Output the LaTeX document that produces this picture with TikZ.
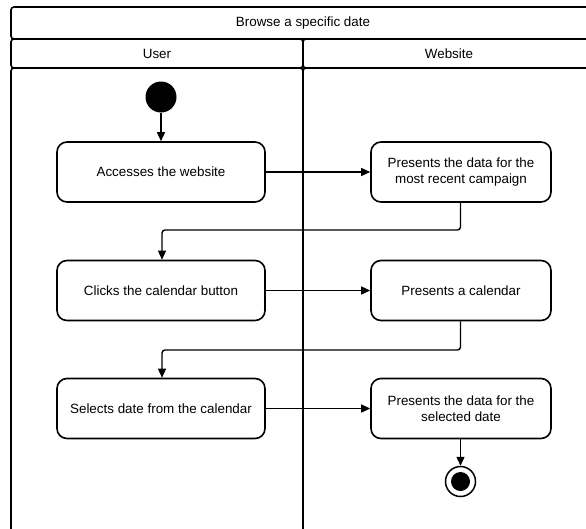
\documentclass[tikz,border=0pt]{standalone}
\usepackage{fontspec}
\setmainfont{Liberation Sans}
\usetikzlibrary{arrows.meta}
\begin{document}
\begin{tikzpicture}[x=1pt,y=-1pt,
  frame/.style={draw=black,line width=1.6pt,rounded corners=3pt},
  action/.style={draw=black,line width=1.6pt,rounded corners=10pt,fill=white,
    minimum height=60pt,align=center,inner sep=0pt,
    font=\fontsize{13.4}{16.5}\selectfont},
  useract/.style={action,minimum width=208pt},
  webact/.style={action,minimum width=180pt},
  flow/.style={draw=black,line width=1.4pt,rounded corners=3pt,
    -{Triangle[length=9pt,width=8pt]}},
  lbl/.style={font=\fontsize{13.4}{16}\selectfont}]
\useasboundingbox (0,0) rectangle (586,528);
\clip (0,0) rectangle (586,528);
\fill[white] (0,0) rectangle (586,528);

% pool and swimlanes
\draw[frame] (11,7) rectangle (595,39);
\draw[frame] (11,39) rectangle (303,68);
\draw[frame] (303,39) rectangle (595,68);
\draw[frame] (11,68) rectangle (303,540);
\draw[frame] (303,68) rectangle (595,540);
\node[lbl] (title) at (303,23) {Browse a specific date};
\node[lbl] (user) at (157,53.5) {User};
\node[lbl] (web) at (449,53.5) {Website};

% start and end
\node[circle,fill=black,minimum size=31pt,inner sep=0pt] (start) at (161,97) {};
\node[circle,draw=black,line width=1.5pt,fill=white,minimum size=30pt,inner sep=0pt] (end) at (460.5,481.5) {};
\fill[black] (end.center) circle (9.5pt);

% actions
\node[useract] (a1) at (161,172) {Accesses the website};
\node[webact]  (w1) at (461,172) {Presents the data for the\\most recent campaign};
\node[useract] (a2) at (161,290.5) {Clicks the calendar button};
\node[webact]  (w2) at (461,290.5) {Presents a calendar};
\node[useract] (a3) at (161,408.5) {Selects date from the calendar};
\node[webact]  (w3) at (461,408.5) {Presents the data for the\\selected date};

% control flow
\draw[flow] (start) -- (a1);
\draw[flow] (a1) -- (w1);
\draw[flow] (w1.south -| 460.5,0) |- (162,230) -- (a2.north -| 162,0);
\draw[flow] (a2) -- (w2);
\draw[flow] (w2.south -| 460.5,0) |- (162,350) -- (a3.north -| 162,0);
\draw[flow] (a3) -- (w3);
\draw[flow] (w3.south -| 460.5,0) -- (end);
\end{tikzpicture}
\end{document}
